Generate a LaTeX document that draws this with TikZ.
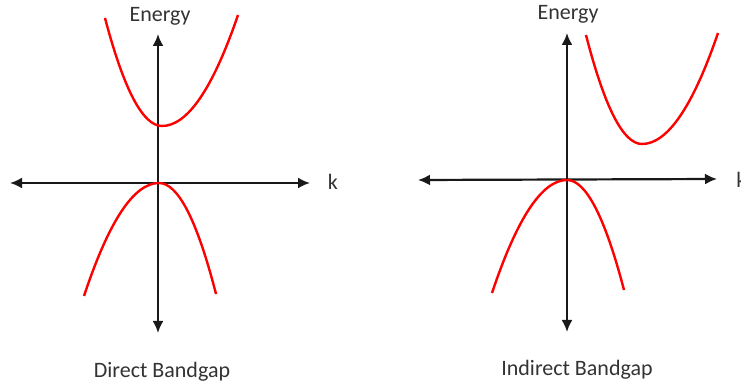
\documentclass[tikz,border=0pt]{standalone}
\usepackage{fontspec}
\setmainfont{Carlito}
\usepackage{tikz}
\usetikzlibrary{arrows.meta}

\begin{document}
\begin{tikzpicture}[
  x=0.5pt, y=-0.5pt,
  >={Latex[length=6pt,width=5.5pt]},
  axis/.style={<->, line width=1.1pt, black!90},
  band/.style={line width=1.2pt, red},
  lbl/.style={font=\fontsize{11}{13}\selectfont, text=black!80, inner sep=0pt}
]
\useasboundingbox (0,0) rectangle (741,385);

% direct gap
\coordinate (hl1) at (10,183);
\coordinate (hr1) at (310,183);
\coordinate (vb1) at (158,333);
\coordinate (vt1) at (158,34);
\coordinate (cbl1) at (105,18);
\coordinate (cbm1) at (162,126);
\coordinate (cbr1) at (238,15);
\coordinate (vbl1) at (84,296);
\coordinate (vbm1) at (159,183);
\coordinate (vbr1) at (216,294);

\node[lbl] (energy1) at (160,16) {Energy};
\node[lbl] (k1) at (333,182) {k};
\node[lbl] (cap1) at (162,372) {Direct Bandgap};

\draw[axis] (hl1) -- (hr1);
\draw[axis] (vb1) -- (vt1);
\draw[band] (cbl1) .. controls +(19,72) and +(-19,0) .. (cbm1)
  .. controls +(25.3,0) and +(-25.3,74) .. (cbr1);
\draw[band] (vbl1) .. controls +(25,-75.3) and +(-25,0) .. (vbm1)
  .. controls +(19,0) and +(-19,-74) .. (vbr1);

% indirect gap
\coordinate (hl2) at (418,180);
\coordinate (hr2) at (717,179);
\coordinate (vb2) at (567,332);
\coordinate (vt2) at (567,33);
\coordinate (cbl2) at (586,35);
\coordinate (cbm2) at (642,144);
\coordinate (cbr2) at (718,33);
\coordinate (vbl2) at (492,293);
\coordinate (vbm2) at (567,180);
\coordinate (vbr2) at (624,290);

\node[lbl] (energy2) at (568,14) {Energy};
\node[lbl, anchor=west] (k2) at (736,180) {k};
\node[lbl] (cap2) at (577,370) {Indirect Bandgap};

\draw[axis] (hl2) -- (hr2);
\draw[axis] (vb2) -- (vt2);
\draw[band] (cbl2) .. controls +(18.7,72.7) and +(-18.7,0) .. (cbm2)
  .. controls +(25.3,0) and +(-25.3,74) .. (cbr2);
\draw[band] (vbl2) .. controls +(25,-74.7) and +(-25,0) .. (vbm2)
  .. controls +(19,0) and +(-19,-72.7) .. (vbr2);
\end{tikzpicture}
\end{document}
